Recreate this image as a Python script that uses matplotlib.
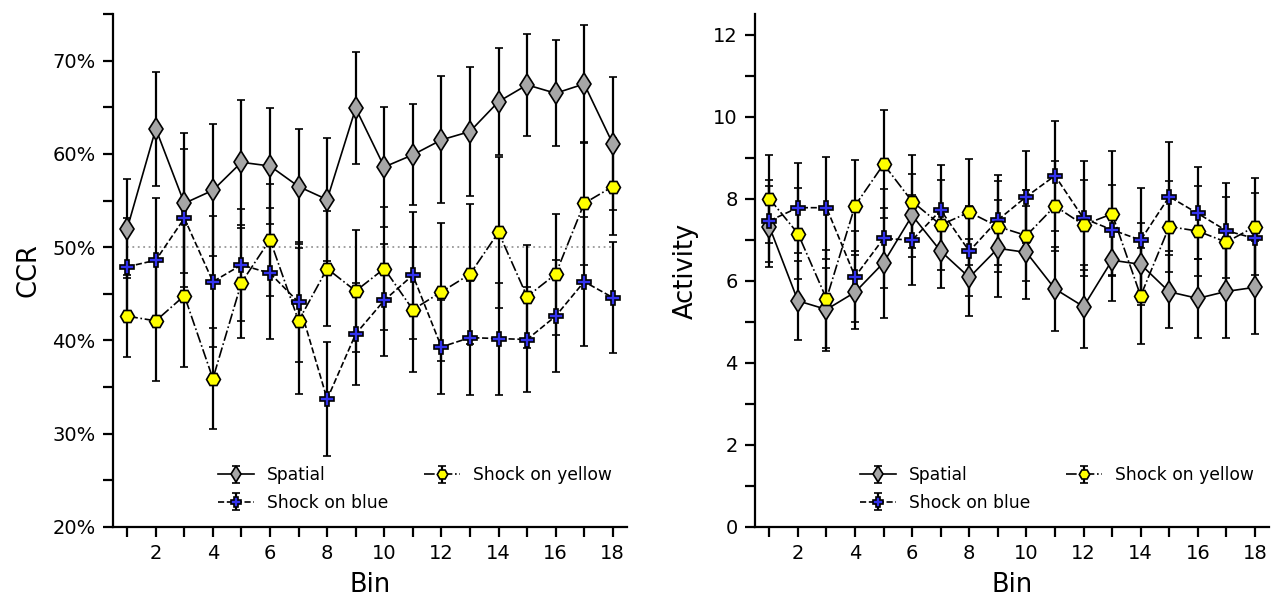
import matplotlib
matplotlib.use("Agg")
import matplotlib.pyplot as plt
from matplotlib.ticker import FuncFormatter, MultipleLocator
import numpy as np

bins = list(range(1, 19))

ccr_spatial = [52.0, 62.7, 54.7, 56.1, 59.1, 58.7, 56.5, 55.1, 64.9, 58.6, 59.9, 61.5, 62.4, 65.6, 67.4, 66.5, 67.5, 61.1]
ccr_spatial_err = [5.3, 6.1, 7.5, 7.1, 6.7, 6.2, 6.2, 6.6, 6.0, 6.4, 5.4, 6.8, 6.9, 5.7, 5.5, 5.7, 6.3, 7.1]
ccr_blue = [47.9, 48.6, 53.1, 46.3, 48.1, 47.2, 44.1, 33.7, 40.7, 44.3, 47.0, 39.3, 40.3, 40.2, 40.1, 42.6, 46.3, 44.6]
ccr_blue_err = [5.2, 6.7, 7.4, 7.0, 6.0, 7.0, 6.4, 6.1, 5.5, 6.0, 6.8, 5.0, 6.1, 6.0, 5.6, 6.0, 6.9, 6.0]
ccr_yellow = [42.6, 42.1, 44.8, 35.9, 46.2, 50.8, 42.1, 47.7, 45.3, 47.7, 43.3, 45.2, 47.1, 51.6, 44.7, 47.1, 54.7, 56.5]
ccr_yellow_err = [4.4, 6.5, 7.7, 5.4, 5.9, 6.0, 7.8, 6.2, 6.5, 6.6, 6.7, 7.4, 7.5, 8.1, 5.5, 6.5, 6.6, 5.2]

act_spatial = [7.32, 5.51, 5.30, 5.72, 6.44, 7.59, 6.72, 6.08, 6.79, 6.69, 5.80, 5.37, 6.50, 6.40, 5.73, 5.57, 5.74, 5.84]
act_spatial_err = [0.98, 0.96, 1.0, 0.9, 1.34, 1.0, 0.9, 0.94, 1.18, 1.14, 1.02, 1.02, 1.0, 1.0, 0.89, 0.97, 1.13, 1.14]
act_blue = [7.46, 7.78, 7.78, 6.10, 7.03, 6.99, 7.72, 6.72, 7.48, 8.05, 8.56, 7.52, 7.24, 6.99, 8.05, 7.64, 7.22, 7.03]
act_blue_err = [1.0, 1.1, 1.24, 1.1, 1.2, 1.1, 1.1, 1.1, 1.1, 1.12, 1.34, 1.4, 1.1, 1.26, 1.32, 1.12, 1.16, 1.1]
act_yellow = [8.00, 7.15, 5.56, 7.83, 8.84, 7.93, 7.36, 7.67, 7.32, 7.10, 7.82, 7.36, 7.63, 5.63, 7.32, 7.21, 6.94, 7.32]
act_yellow_err = [1.07, 1.1, 1.2, 1.1, 1.31, 1.14, 1.1, 1.29, 1.1, 1.1, 1.1, 1.1, 1.52, 1.16, 1.1, 1.1, 1.1, 1.19]

labels = ["Spatial", "Shock on blue", "Shock on yellow"]

fig = plt.figure(figsize=(12.82, 6.0), dpi=100)
ax1 = fig.add_axes([0.0881, 0.1217, 0.401, 0.855])
ax2 = fig.add_axes([0.589, 0.1217, 0.401, 0.855])

styles = [
    dict(marker="d", mfc="#a6a6a6", ls="-", ms=11.5),
    dict(marker="P", mfc="#3333ee", ls="--", ms=10),
    dict(marker="H", mfc="#ffff00", ls="-.", ms=10),
]


def draw(ax, series):
    handles = []
    for (m, e), st, lab in zip(series, styles, labels):
        h = ax.errorbar(bins, m, yerr=e, color="black", ecolor="black",
                        elinewidth=1.6, capsize=2.8, capthick=1.6,
                        marker=st["marker"], mfc=st["mfc"], mec="black", mew=1.2,
                        ms=st["ms"], ls=st["ls"], lw=1.2, label=lab)
        handles.append(h)
    ax.set_xlim(0.5, 18.5)
    ax.xaxis.set_major_locator(MultipleLocator(2))
    ax.xaxis.set_minor_locator(MultipleLocator(1))
    for s in ["top", "right"]:
        ax.spines[s].set_visible(False)
    for s in ["left", "bottom"]:
        ax.spines[s].set_linewidth(1.6)
    ax.tick_params(which="both", direction="out", length=7.5, width=1.6,
                   labelsize=14, pad=5)
    ax.set_xlabel("Bin", fontsize=18.5, labelpad=6)
    ax.legend(handles, labels, ncol=2, loc="lower right", frameon=False,
              fontsize=12.3, markerscale=0.75, columnspacing=2.1,
              handlelength=2.1, handletextpad=0.75, labelspacing=0.55,
              borderaxespad=0.5)


draw(ax1, [(ccr_spatial, ccr_spatial_err), (ccr_blue, ccr_blue_err), (ccr_yellow, ccr_yellow_err)])
ax1.hlines(50, bins[0], bins[-1], colors="#999999", linestyles=(0, (1, 2)), lw=1.3, zorder=0)
ax1.set_ylim(20, 75)
ax1.yaxis.set_major_locator(MultipleLocator(10))
ax1.yaxis.set_minor_locator(MultipleLocator(5))
ax1.yaxis.set_major_formatter(FuncFormatter(lambda v, p: f"{v:.0f}%"))
ax1.set_ylabel("CCR", fontsize=18.5, labelpad=8)

draw(ax2, [(act_spatial, act_spatial_err), (act_blue, act_blue_err), (act_yellow, act_yellow_err)])
ax2.set_ylim(0, 12.5)
ax2.yaxis.set_major_locator(MultipleLocator(2))
ax2.yaxis.set_minor_locator(MultipleLocator(1))
ax2.set_ylabel("Activity", fontsize=18.5, labelpad=10)

fig.savefig("out.png", dpi=100)
